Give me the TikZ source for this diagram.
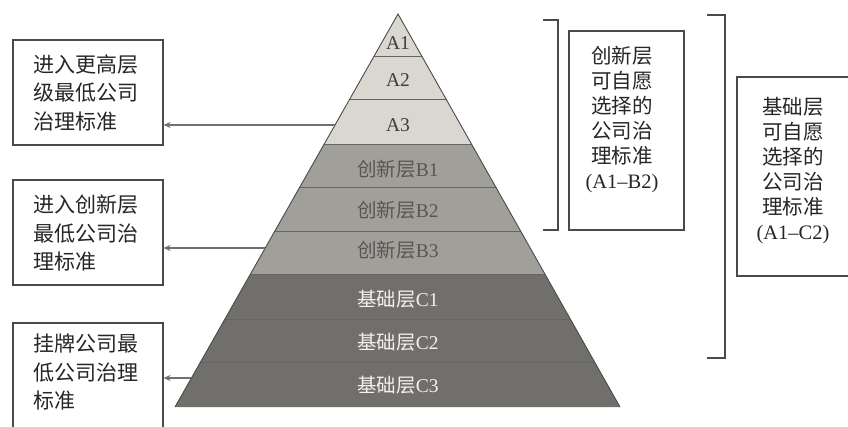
\documentclass[tikz,border=0pt]{standalone}
\usepackage{fontspec}
\setmainfont{Liberation Serif}
\newfontfamily\cjk{Noto Sans CJK SC}
\usetikzlibrary{calc,arrows.meta}
\definecolor{fillA}{HTML}{D9D7D0}
\definecolor{fillB}{HTML}{A19F9A}
\definecolor{fillC}{HTML}{706F6B}
\definecolor{txtA}{HTML}{3C3C3A}
\definecolor{txtB}{HTML}{575652}
\definecolor{txtC}{HTML}{F2F1EE}
\definecolor{linegray}{HTML}{4A4A48}
\definecolor{arrowgray}{HTML}{707070}
\tikzset{
  lbox/.style={draw=linegray, line width=1.1pt, minimum width=150pt, inner sep=0pt},
  ltext/.style={font=\cjk\fontsize{21}{28.5}\selectfont, align=left, text=black!85, inner sep=0pt},
  rbox/.style={draw=linegray, line width=1.1pt, inner sep=0pt},
  rtext/.style={font=\fontsize{20.5}{25}\selectfont, align=center, text=black!85, inner sep=0pt},
  layerlbl/.style={font=\fontsize{19.5}{19.5}\selectfont, inner sep=0pt},
  bracketline/.style={draw=linegray, line width=1.1pt},
  arr/.style={draw=arrowgray, line width=1.1pt, -{Stealth[length=7pt,width=6pt]}},
  sep/.style={draw=linegray!85, line width=1pt}
}
\begin{document}
\begin{tikzpicture}[x=1pt,y=-1pt]
\useasboundingbox (0,0) rectangle (848,427);
\fill[white] (0,0) rectangle (848,427);
% pyramid corners
\coordinate (apex) at (398,14);
\coordinate (bl) at (175,407);
\coordinate (br) at (620,407);
% layers
\foreach \ta/\tb/\col in {0/0.1094/fillA,0.1094/0.2188/fillA,0.2188/0.3333/fillA,
  0.3333/0.4427/fillB,0.4427/0.5547/fillB,0.5547/0.6641/fillB,
  0.6641/0.7786/fillC,0.7786/0.8855/fillC,0.8855/1/fillC}{
  \fill[\col] ($(apex)!\ta!(bl)$) -- ($(apex)!\ta!(br)$) -- ($(apex)!\tb!(br)$) -- ($(apex)!\tb!(bl)$) -- cycle;
}
\foreach \t in {0.1094,0.2188,0.3333,0.4427,0.5547,0.6641,0.7786,0.8855}{
  \draw[sep] ($(apex)!\t!(bl)$) -- ($(apex)!\t!(br)$);
}
\draw[linegray, line width=0.9pt] (bl) -- (apex) -- (br);
% layer labels
\node[layerlbl, text=txtA] (la1) at (398,43) {A1};
\node[layerlbl, text=txtA] (la2) at (398,80) {A2};
\node[layerlbl, text=txtA] (la3) at (398,125) {A3};
\node[layerlbl, text=txtB] (lb1) at (398,169) {{\cjk 创新层}B1};
\node[layerlbl, text=txtB] (lb2) at (398,210) {{\cjk 创新层}B2};
\node[layerlbl, text=txtB] (lb3) at (398,250) {{\cjk 创新层}B3};
\node[layerlbl, text=txtC] (lc1) at (398,299) {{\cjk 基础层}C1};
\node[layerlbl, text=txtC] (lc2) at (398,342) {{\cjk 基础层}C2};
\node[layerlbl, text=txtC] (lc3) at (398,385) {{\cjk 基础层}C3};
% left boxes
\node[lbox, minimum height=105pt] (box1) at (88,92.5) {};
\node[ltext] (t1) at (86,93) {进入更高层\\级最低公司\\治理标准};
\node[lbox, minimum height=105pt] (box2) at (88,232.5) {};
\node[ltext] (t2) at (86,233) {进入创新层\\最低公司治\\理标准};
\node[lbox, minimum height=110pt] (box3) at (88,378) {};
\node[ltext] (t3) at (86,372) {挂牌公司最\\低公司治理\\标准};
% arrows
\coordinate (e1) at ($(apex)!0.2824!(bl)$);
\coordinate (e2) at ($(apex)!0.5954!(bl)$);
\coordinate (e3) at ($(apex)!0.9262!(bl)$);
\draw[arr] (e1) -- (e1 -| box1.east);
\draw[arr] (e2) -- (e2 -| box2.east);
\draw[arr] (e3) -- (e3 -| box3.east);
% right bracket 1 and box
\coordinate (b1a) at (543,20);
\coordinate (b1b) at (558,20);
\coordinate (b1c) at (558,230);
\coordinate (b1d) at (543,230);
\draw[bracketline] (b1a) -- (b1b) -- (b1c) -- (b1d);
\node[rbox, minimum width=115pt, minimum height=199pt] (rb1) at (626.5,130.5) {};
\node[rtext] (rt1) at (622,120) {{\cjk 创新层}\\{\cjk 可自愿}\\{\cjk 选择的}\\{\cjk 公司治}\\{\cjk 理标准}\\(A1–B2)};
% right bracket 2 and box
\coordinate (b2a) at (707,15);
\coordinate (b2b) at (725,15);
\coordinate (b2c) at (725,358);
\coordinate (b2d) at (707,358);
\draw[bracketline] (b2a) -- (b2b) -- (b2c) -- (b2d);
\node[rbox, minimum width=120pt, minimum height=199pt] (rb2) at (797,176.5) {};
\node[rtext] (rt2) at (793,171) {{\cjk 基础层}\\{\cjk 可自愿}\\{\cjk 选择的}\\{\cjk 公司治}\\{\cjk 理标准}\\(A1–C2)};
\end{tikzpicture}
\end{document}
